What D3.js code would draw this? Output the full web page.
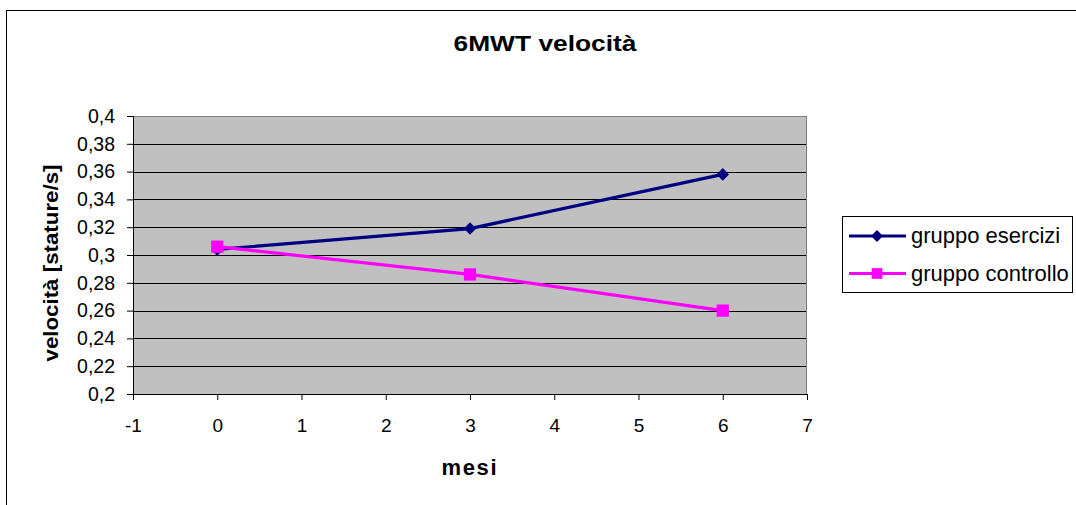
<!DOCTYPE html>
<html>
<head>
<meta charset="utf-8">
<script src="https://cdn.jsdelivr.net/npm/d3@7"></script>
<style>
html,body{margin:0;padding:0;background:#fff;}
svg{display:block;font-family:"Liberation Sans",Arial,sans-serif;}
</style>
</head>
<body>
<svg id="chart" width="1076" height="505"></svg>
<script>
const months = [0, 3, 6];
const esercizi = [0.304, 0.319, 0.358];
const controllo = [0.306, 0.286, 0.260];
const seriesNames = ["gruppo esercizi", "gruppo controllo"];
const seriesColors = ["#000080", "#FF00FF"];
const xTicks = [-1, 0, 1, 2, 3, 4, 5, 6, 7];
const yTicks = [0.2, 0.22, 0.24, 0.26, 0.28, 0.3, 0.32, 0.34, 0.36, 0.38, 0.4];

const svg = d3.select("#chart");
const L = 133, R = 807, T = 116, B = 394;
const FF = "Liberation Sans, Arial, sans-serif";

// outer chart border
svg.append("rect").attr("x", 6.5).attr("y", 10.5).attr("width", 1100).attr("height", 600)
  .attr("fill", "#fff").attr("stroke", "#000").attr("stroke-width", 1);

const x = d3.scaleLinear().domain([-1, 7]).range([L, R]);
const y = d3.scaleLinear().domain([0.2, 0.4]).range([B, T]);

// plot background
svg.append("rect").attr("x", L).attr("y", T).attr("width", R - L).attr("height", B - T)
  .attr("fill", "#C0C0C0");

// gridlines
svg.append("g").selectAll("line").data(yTicks.slice(1, -1)).join("line")
  .attr("x1", L).attr("x2", R)
  .attr("y1", d => Math.round(y(d)) + 0.5).attr("y2", d => Math.round(y(d)) + 0.5)
  .attr("stroke", "#000").attr("stroke-width", 1);

// plot border
svg.append("rect").attr("x", L + 0.5).attr("y", T + 0.5).attr("width", R - L - 1).attr("height", B - T)
  .attr("fill", "none").attr("stroke", "#808080").attr("stroke-width", 1);

const fmt = d => String(+d.toFixed(2)).replace(".", ",");

// y axis
const yAxis = svg.append("g").attr("transform", `translate(${L},0)`)
  .call(d3.axisLeft(y).tickValues(yTicks).tickFormat(fmt).tickSize(6).tickPadding(12));
yAxis.select(".domain").attr("stroke", "#000");
yAxis.selectAll("text").attr("font-size", 19.5).attr("fill", "#000").attr("font-family", FF);

// x axis
const xAxis = svg.append("g").attr("transform", `translate(0,${B})`)
  .call(d3.axisBottom(x).tickValues(xTicks).tickFormat(d => String(d)).tickSize(6).tickPadding(19));
xAxis.select(".domain").attr("stroke", "#000");
xAxis.selectAll("text").attr("font-size", 19).attr("fill", "#000").attr("font-family", FF);

// title
svg.append("text").attr("x", 545).attr("y", 51).attr("text-anchor", "middle")
  .attr("font-size", 22).attr("font-weight", "bold")
  .attr("textLength", 183).attr("lengthAdjust", "spacingAndGlyphs").text("6MWT velocità");

// axis titles
svg.append("text").attr("transform", "translate(58,263) rotate(-90)").attr("text-anchor", "middle")
  .attr("font-size", 21).attr("font-weight", "bold")
  .attr("textLength", 197).attr("lengthAdjust", "spacingAndGlyphs").text("velocità [stature/s]");
svg.append("text").attr("x", 469).attr("y", 475).attr("text-anchor", "middle")
  .attr("font-size", 22).attr("font-weight", "bold")
  .attr("textLength", 55).attr("lengthAdjust", "spacing").text("mesi");

const line = d3.line().x(d => x(d[0])).y(d => y(d[1]));
const diamond = d3.symbol().type(d3.symbolDiamond2).size(100);
const square = d3.symbol().type(d3.symbolSquare).size(150);

const data = [esercizi, controllo];
const symbols = [diamond, square];
data.forEach((vals, i) => {
  const pts = months.map((m, j) => [m, vals[j]]);
  svg.append("path").datum(pts).attr("d", line).attr("fill", "none")
    .attr("stroke", seriesColors[i]).attr("stroke-width", 3.2);
  svg.append("g").selectAll("path").data(pts).join("path")
    .attr("transform", d => `translate(${x(d[0])},${y(d[1])})`)
    .attr("d", symbols[i]).attr("fill", seriesColors[i]);
});

// legend
const lg = svg.append("g");
lg.append("rect").attr("x", 842.5).attr("y", 216.5).attr("width", 230).attr("height", 76)
  .attr("fill", "#fff").attr("stroke", "#000").attr("stroke-width", 1);
const rowsY = [236, 273.5];
const legendSymbols = [d3.symbol().type(d3.symbolDiamond2).size(90), d3.symbol().type(d3.symbolSquare).size(115)];
seriesNames.forEach((name, i) => {
  lg.append("line").attr("x1", 849).attr("x2", 906).attr("y1", rowsY[i]).attr("y2", rowsY[i])
    .attr("stroke", seriesColors[i]).attr("stroke-width", 3);
  lg.append("path").attr("transform", `translate(877,${rowsY[i]})`).attr("d", legendSymbols[i])
    .attr("fill", seriesColors[i]);
  lg.append("text").attr("x", 911).attr("y", rowsY[i] + 7).attr("font-size", 22)
    .attr("fill", "#000").text(name);
});
</script>
</body>
</html>
